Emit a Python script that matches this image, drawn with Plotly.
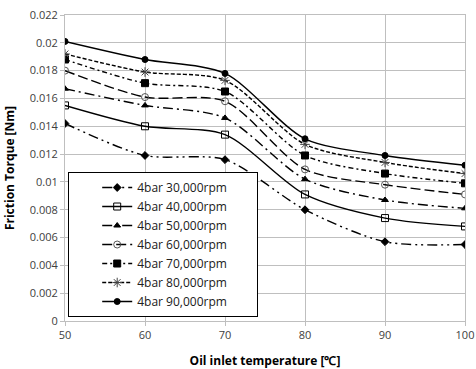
import plotly.graph_objects as go

temps = [50, 60, 70, 80, 90, 100]
series_names = ["4bar 30,000rpm", "4bar 40,000rpm", "4bar 50,000rpm", "4bar 60,000rpm",
                "4bar 70,000rpm", "4bar 80,000rpm", "4bar 90,000rpm"]
torque_30k = [0.0142, 0.0119, 0.0116, 0.0080, 0.0057, 0.0055]
torque_40k = [0.0155, 0.0140, 0.0134, 0.0091, 0.0074, 0.0068]
torque_50k = [0.0167, 0.0155, 0.0146, 0.0102, 0.0087, 0.0081]
torque_60k = [0.0180, 0.0161, 0.0158, 0.0109, 0.0098, 0.0091]
torque_70k = [0.0188, 0.0171, 0.0165, 0.0119, 0.0106, 0.0099]
torque_80k = [0.0192, 0.0179, 0.0173, 0.0127, 0.0114, 0.0106]
torque_90k = [0.0201, 0.0188, 0.0178, 0.0131, 0.0119, 0.0112]
all_series = [torque_30k, torque_40k, torque_50k, torque_60k, torque_70k, torque_80k, torque_90k]

dashes = ["10px,4px,2px,4px,2px,4px", "solid", "10px,4px,2px,4px", "10px,4px",
          "5px,3px,2px,3px", "4px,2px", "solid"]
symbols = ["diamond", "square-open", "triangle-up", "circle-open", "square", "asterisk-open", "circle"]
msizes = [6, 7, 6, 7, 7, 8, 6]
mcolors = ["black", "black", "black", "#555555", "black", "#444444", "black"]

fig = go.Figure()
for name, ys, d, s, ms, mc in zip(series_names, all_series, dashes, symbols, msizes, mcolors):
    fig.add_trace(go.Scatter(
        x=temps, y=ys, name=name + "\u00a0" * 8, mode="lines+markers",
        line=dict(color="black", width=1.4, dash=d, shape="spline", smoothing=0.8),
        marker=dict(symbol=s, size=ms, color=mc, line=dict(color=mc, width=1)),
    ))

fig.update_layout(
    width=476, height=369,
    margin=dict(l=65, r=11, t=15, b=48),
    paper_bgcolor="white", plot_bgcolor="white",
    font=dict(family="Open Sans", size=11, color="#404040"),
    showlegend=True,
    legend=dict(
        x=0.008, y=0.013, xanchor="left", yanchor="bottom",
        bgcolor="white", bordercolor="black", borderwidth=1,
        font=dict(family="Open Sans", size=12, color="#202020"),
        tracegroupgap=0, itemwidth=30, indentation=28,
    ),
    xaxis=dict(
        range=[50, 100], dtick=10, showgrid=True, gridcolor="#bfbfbf", gridwidth=1,
        showline=True, linecolor="#bfbfbf", mirror=True, ticks="outside", ticklen=4,
        tickcolor="#bfbfbf", zeroline=False, automargin=False,
        title=dict(text="<b>Oil inlet temperature [℃]</b>", font=dict(size=12, color="black"), standoff=18),
    ),
    yaxis=dict(
        range=[0, 0.0220001], dtick=0.002, showgrid=True, gridcolor="#bfbfbf", gridwidth=1,
        showline=True, linecolor="#bfbfbf", mirror=True, ticks="outside", ticklen=4,
        tickcolor="#bfbfbf", zeroline=False, automargin=False,
        title=dict(text="<b>Friction Torque [Nm]</b>", font=dict(size=12, color="black"), standoff=12),
    ),
)

fig.write_html("out.html",
               config={"displayModeBar": False},
               post_script="document.body.style.margin='0';document.body.style.overflow='hidden';")
